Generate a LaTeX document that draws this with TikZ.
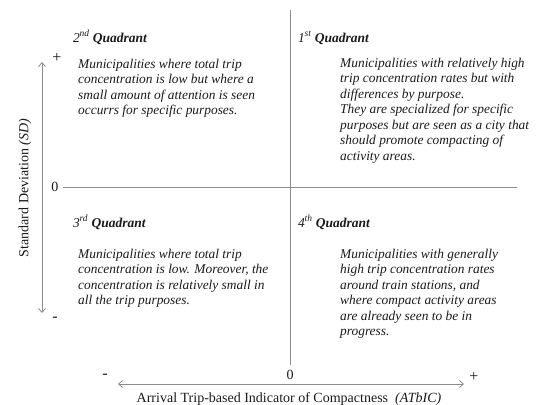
\documentclass[tikz,border=0pt]{standalone}
\usepackage{fontspec}
\setmainfont{Liberation Serif}
\usetikzlibrary{arrows.meta}
\definecolor{axisgray}{HTML}{8C8C8C}
\definecolor{txt}{HTML}{1A1A1A}
\newcommand{\qbody}[1]{\parbox[t]{215pt}{\fontsize{13.4}{15.5}\selectfont\itshape\raggedright #1}}
\newcommand{\qhead}[2]{\textit{#1\textsuperscript{\kern-0.3pt #2}} \textbf{\textit{Quadrant}}}
\begin{document}
\begin{tikzpicture}[x=1pt,y=-1pt,
  axis/.style={draw=axisgray, line width=0.8pt},
  dblarrow/.style={draw=axisgray, line width=0.8pt, {Straight Barb[length=4pt,width=7pt]}-{Straight Barb[length=4pt,width=7pt]}},
  heading/.style={anchor=base west, inner sep=0pt, text=txt, font=\fontsize{13.5}{16}\selectfont},
  body/.style={anchor=base west, inner sep=0pt, text=txt},
  axlab/.style={inner sep=0pt, text=txt, font=\fontsize{14}{16}\selectfont},
  sign/.style={inner sep=0pt, text=txt, font=\fontsize{16}{18}\selectfont}]
\useasboundingbox (0,0) rectangle (542,405);
% axes
\coordinate (vt) at (290,10);
\coordinate (vb) at (290,365);
\coordinate (hl) at (63,187);
\coordinate (hr) at (517,187);
\coordinate (lt) at (42,62);
\coordinate (lb) at (42,313);
\coordinate (bl) at (118,384);
\coordinate (br) at (464,384);
\draw[axis] (vt) -- (vb);
\draw[axis] (hl) -- (hr);
\draw[dblarrow] (lt) -- (lb);
\draw[dblarrow] (bl) -- (br);
% axis marks
\node[axlab] (yzero) at (55,187) {0};
\node[sign] (yplus) at (57,58) {+};
\node[sign] (yminus) at (55,319) {-};
\node[sign] (xminus) at (105,376) {-};
\node[axlab] (xzero) at (290,375) {0};
\node[sign] (xplus) at (474,377) {+};
% axis titles
\node[axlab, rotate=90] (ylab) at (25,188) {Standard Deviation \textit{(SD)}};
\node[axlab, anchor=base] (xlab) at (289,402) {Arrival Trip-based Indicator of Compactness\ \ \textit{(ATbIC)}};
% headings
\node[heading] (h2) at (73,42) {\qhead{2}{nd}};
\node[heading] (h1) at (298,42) {\qhead{1}{st}};
\node[heading] (h3) at (73,227) {\qhead{3}{rd}};
\node[heading] (h4) at (298,227) {\qhead{4}{th}};
% bodies
\node[body] (b2) at (78,68) {\qbody{Municipalities where total trip\\concentration is low but where a\\small amount of attention is seen\\occurrs for specific purposes.}};
\node[body] (b1) at (340,67) {\qbody{Municipalities with relatively high\\trip concentration rates but with\\differences by purpose.\\They are specialized for specific\\purposes but are seen as a city that\\should promote compacting of\\activity areas.}};
\node[body] (b3) at (78,258) {\qbody{Municipalities where total trip\\concentration is low. Moreover, the\\concentration is relatively small in\\all the trip purposes.}};
\node[body] (b4) at (340,258) {\qbody{Municipalities with generally\\high trip concentration rates\\around train stations, and\\where compact activity areas\\are already seen to be in\\progress.}};
\end{tikzpicture}
\end{document}
